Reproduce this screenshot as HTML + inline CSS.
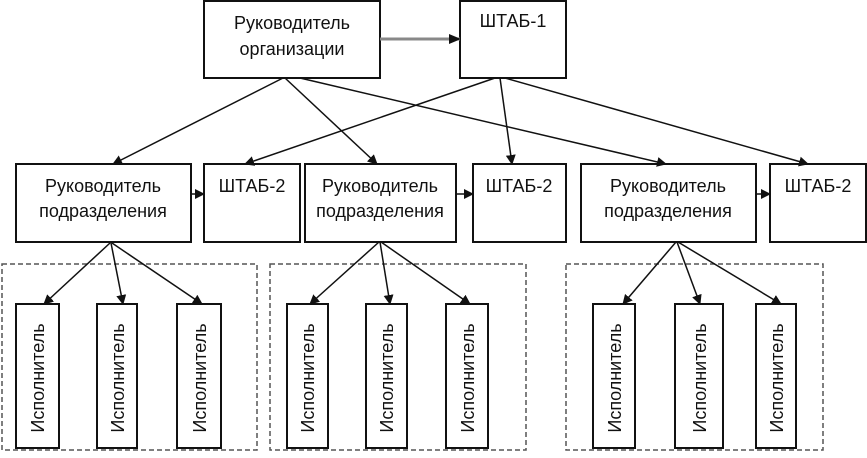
<!DOCTYPE html>
<html><head><meta charset="utf-8"><style>
body{margin:0;background:#fff}
svg text{font-family:"Liberation Sans","DejaVu Sans",sans-serif;fill:#111}
</style></head><body>
<svg width="867" height="453" viewBox="0 0 867 453" xmlns="http://www.w3.org/2000/svg">
<defs><marker id="a" markerWidth="10" markerHeight="10" refX="9" refY="5" orient="auto" markerUnits="userSpaceOnUse"><path d="M0,0 L10,5 L0,10 z" fill="#111"/></marker>
<marker id="g" markerWidth="12" markerHeight="10" refX="11" refY="5" orient="auto" markerUnits="userSpaceOnUse"><path d="M0,0 L12,5 L0,10 z" fill="#111"/></marker></defs>
<g fill="#fff" stroke="#111" stroke-width="2">
<rect x="204" y="1" width="176" height="77"/>
<rect x="460" y="1" width="106" height="77"/>
<rect x="16" y="164" width="175" height="78"/>
<rect x="204" y="164" width="96" height="78"/>
<rect x="305" y="164" width="151" height="78"/>
<rect x="473" y="164" width="93" height="78"/>
<rect x="581" y="164" width="175" height="78"/>
<rect x="770" y="164" width="96" height="78"/>
</g>
<g fill="none" stroke="#555" stroke-width="1.5" stroke-dasharray="5,3">
<rect x="2" y="264" width="255" height="186"/>
<rect x="270" y="264" width="256" height="186"/>
<rect x="566" y="264" width="257" height="186"/>
</g>
<g fill="#fff" stroke="#111" stroke-width="2">
<rect x="16" y="304" width="43" height="144"/><rect x="97" y="304" width="40" height="144"/><rect x="177" y="304" width="44" height="144"/>
<rect x="287" y="304" width="41" height="144"/><rect x="366" y="304" width="41" height="144"/><rect x="446" y="304" width="42" height="144"/>
<rect x="593" y="304" width="42" height="144"/><rect x="675" y="304" width="48" height="144"/><rect x="756" y="304" width="40" height="144"/>
</g>
<line x1="380" y1="39" x2="460" y2="39" stroke="#888" stroke-width="3" marker-end="url(#g)"/>
<g stroke="#111" stroke-width="1.5" marker-end="url(#a)">
<line x1="283" y1="78" x2="113" y2="164"/>
<line x1="285" y1="78" x2="377" y2="164"/>
<line x1="300" y1="78" x2="666" y2="164"/>
<line x1="495" y1="78" x2="245" y2="164"/>
<line x1="500" y1="78" x2="512" y2="164"/>
<line x1="505" y1="78" x2="808" y2="164"/>
<line x1="191" y1="194" x2="204" y2="194"/>
<line x1="456" y1="194" x2="473" y2="194"/>
<line x1="756" y1="194" x2="770" y2="194"/>
<line x1="110" y1="243" x2="44" y2="304"/><line x1="111" y1="243" x2="123" y2="304"/><line x1="112" y1="243" x2="202" y2="304"/>
<line x1="379" y1="242" x2="310" y2="304"/><line x1="380" y1="242" x2="390" y2="304"/><line x1="381" y1="242" x2="470" y2="304"/>
<line x1="676" y1="242" x2="623" y2="304"/><line x1="677" y1="242" x2="700" y2="304"/><line x1="678" y1="242" x2="781" y2="304"/>
</g>
<g font-size="18" text-anchor="middle">
<text x="292" y="29">Руководитель</text><text x="292" y="55">организации</text>
<text x="513" y="27">ШТАБ-1</text>
<text x="103" y="192">Руководитель</text><text x="103" y="217">подразделения</text>
<text x="252" y="192">ШТАБ-2</text>
<text x="380" y="192">Руководитель</text><text x="380" y="217">подразделения</text>
<text x="519" y="192">ШТАБ-2</text>
<text x="668" y="192">Руководитель</text><text x="668" y="217">подразделения</text>
<text x="818" y="192">ШТАБ-2</text>
</g>
<g font-size="18" text-anchor="middle">
<text transform="translate(44,378) rotate(-90)">Исполнитель</text>
<text transform="translate(124,378) rotate(-90)">Исполнитель</text>
<text transform="translate(206,378) rotate(-90)">Исполнитель</text>
<text transform="translate(314,378) rotate(-90)">Исполнитель</text>
<text transform="translate(393,378) rotate(-90)">Исполнитель</text>
<text transform="translate(474,378) rotate(-90)">Исполнитель</text>
<text transform="translate(621,378) rotate(-90)">Исполнитель</text>
<text transform="translate(706,378) rotate(-90)">Исполнитель</text>
<text transform="translate(783,378) rotate(-90)">Исполнитель</text>
</g>
</svg>
</body></html>
